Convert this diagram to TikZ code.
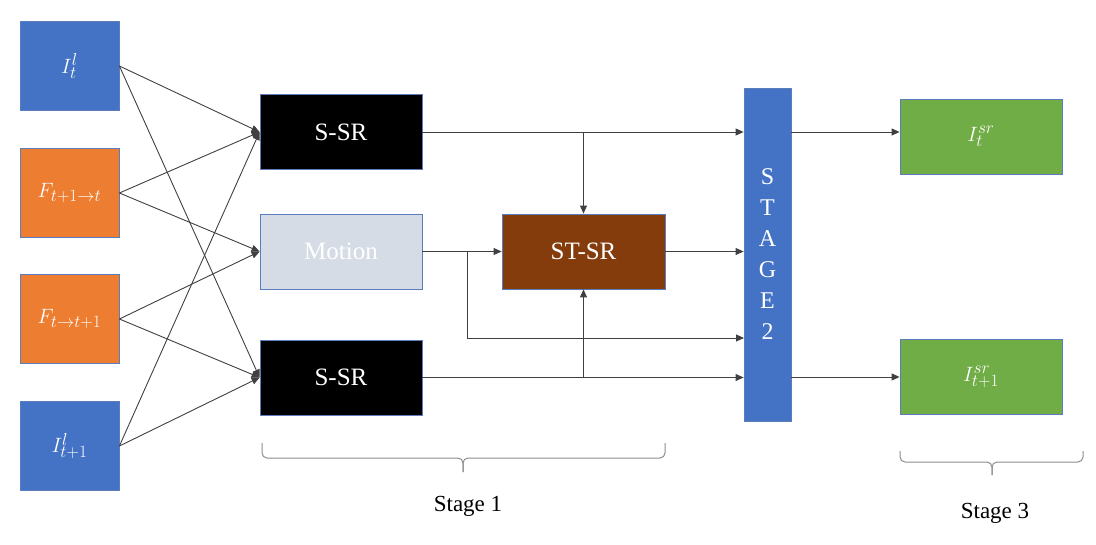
\documentclass[tikz,border=0pt]{standalone}
\usepackage{fontspec}
\setmainfont{Liberation Serif}
\usetikzlibrary{arrows.meta,calc}
\DeclareMathSizes{22}{22}{17}{13}
\definecolor{cblue}{HTML}{4472C4}
\definecolor{corange}{HTML}{ED7D31}
\definecolor{cgreen}{HTML}{70AD47}
\definecolor{clight}{HTML}{D6DCE5}
\definecolor{cbrown}{HTML}{843C0C}
\definecolor{cedge}{HTML}{5B7DBE}
\definecolor{cline}{HTML}{404040}
\definecolor{cbrace}{HTML}{8C8C8C}
\tikzset{
  box/.style={draw=cedge, line width=0.8pt, text=white, inner sep=0pt, font=\fontsize{25}{30}\selectfont},
  mathbox/.style={font=\fontsize{22}{26}\selectfont},
  inbox/.style={box, mathbox, minimum width=99pt, minimum height=89pt},
  midbox/.style={box, minimum width=162pt, minimum height=75pt},
  arr/.style={draw=cline, line width=0.9pt, -{Triangle[length=8pt,width=7pt]}},
  bracepath/.style={draw=cbrace, line width=1pt, rounded corners=5pt},
  lbl/.style={font=\fontsize{23}{27}\selectfont}
}
\begin{document}
\begin{tikzpicture}[x=1pt,y=-1pt]
\useasboundingbox (0,0) rectangle (1096,544);
% inputs
\node[inbox, fill=cblue] (It) at (69.5,66) {$I_t^{l}$};
\node[inbox, fill=corange] (F1) at (69.5,193) {$F_{t+1\rightarrow t}$};
\node[inbox, fill=corange] (F2) at (69.5,319) {$F_{t\rightarrow t+1}$};
\node[inbox, fill=cblue] (It1) at (69.5,446) {$I_{t+1}^{l}$};
% stage 1
\node[midbox, fill=black] (ssr1) at (341,132) {S-SR};
\node[midbox, fill=clight] (mot) at (341,251.5) {Motion};
\node[midbox, fill=black] (ssr2) at (341,377.5) {S-SR};
\node[midbox, fill=cbrown, minimum width=163pt] (stsr) at (583.5,251.5) {ST-SR};
% stage 2
\node[box, fill=cblue, minimum width=47pt, minimum height=333pt, align=center, font=\fontsize{24}{31}\selectfont] (st2) at (767.5,254.5) {S\\T\\A\\G\\E\\2};
% outputs
\node[midbox, mathbox, fill=cgreen] (g1) at (981,136.5) {$I_t^{sr}$};
\node[midbox, mathbox, fill=cgreen] (g2) at (981,377) {$I_{t+1}^{sr}$};
% input connectors
\draw[arr] (It.east) -- (ssr1.west);
\draw[arr] (It.east) -- (ssr2.west);
\draw[arr] (F1.east) -- (ssr1.west);
\draw[arr] (F1.east) -- (mot.west);
\draw[arr] (F2.east) -- (mot.west);
\draw[arr] (F2.east) -- (ssr2.west);
\draw[arr] (It1.east) -- (ssr1.west);
\draw[arr] (It1.east) -- (ssr2.west);
% stage 1 connectors
\draw[arr] (ssr1.east) -- (ssr1.east -| st2.west);
\draw[arr] (stsr.north |- ssr1.east) -- (stsr.north);
\draw[arr] (mot.east) -- (stsr.west);
\coordinate (mb) at (467,251.5);
\coordinate (m3) at (744,338);
\draw[arr] (mb) |- (m3);
\draw[arr] (stsr.east) -- (stsr.east -| st2.west);
\draw[arr] (ssr2.east) -- (ssr2.east -| st2.west);
\draw[arr] (stsr.south |- ssr2.east) -- (stsr.south);
% stage 2 outputs
\draw[arr] (st2.east |- ssr1.east) -- (g1.west |- ssr1.east);
\draw[arr] (st2.east |- g2.west) -- (g2.west);
% braces
\draw[bracepath] (262,443) -- (262,458) -- (463,458) -- (463,472);
\draw[bracepath] (665,443) -- (665,458) -- (463,458) -- (463,472);
\draw[bracepath] (900,451) -- (900,462) -- (992,462) -- (992,475);
\draw[bracepath] (1083,451) -- (1083,462) -- (992,462) -- (992,475);
\node[lbl] (s1) at (468,506) {Stage 1};
\node[lbl] (s3) at (995,513) {Stage 3};
\end{tikzpicture}
\end{document}
